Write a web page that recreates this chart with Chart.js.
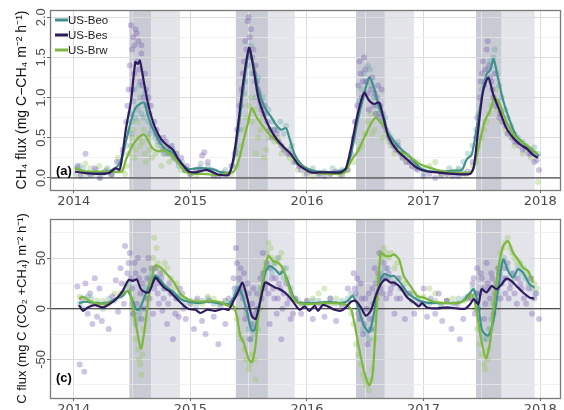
<!DOCTYPE html>
<html>
<head>
<meta charset="utf-8">
<script src="https://cdn.jsdelivr.net/npm/chart.js@4.4.1/dist/chart.umd.min.js"></script>
<style>
html,body{margin:0;padding:0;background:#fff;overflow:hidden;width:564px;height:410px;}
canvas{position:absolute;left:0;}
#c1{top:0;}
#c2{top:210px;}
</style>
</head>
<body>
<canvas id="c1" width="564" height="210"></canvas>
<canvas id="c2" width="564" height="215"></canvas>
<script>
// ---------- data ----------
const siteNames = ["US-Beo", "US-Bes", "US-Brw"];
const xTicks = [2014, 2015, 2016, 2017, 2018];
const ch4Ticks = [0.0, 0.5, 1.0, 1.5, 2.0];
const cTicks = [-50, 0, 50];

// growing-season shading (decimal year)
const darkBands = [[2014.477, 2014.663], [2015.39, 2015.665], [2016.42, 2016.667], [2017.45, 2017.668]];
const lightBands = [[2014.663, 2014.911], [2015.665, 2015.895], [2016.667, 2016.917], [2017.668, 2017.952]];

// CH4 flux smoothed lines
const ch4Beo = [[2014.01,0.12],[2014.1,0.08],[2014.2,0.07],[2014.3,0.08],[2014.39,0.17],[2014.448,0.46],[2014.491,0.71],[2014.528,0.87],[2014.567,0.92],[2014.604,0.94],[2014.633,0.79],[2014.675,0.62],[2014.732,0.46],[2014.789,0.35],[2014.831,0.33],[2014.874,0.27],[2014.93,0.17],[2014.987,0.11],[2015.044,0.12],[2015.129,0.12],[2015.214,0.10],[2015.243,0.08],[2015.328,0.06],[2015.37,0.21],[2015.413,0.62],[2015.455,1.12],[2015.504,1.59],[2015.54,1.42],[2015.583,1.10],[2015.64,0.87],[2015.696,0.75],[2015.74,0.65],[2015.78,0.60],[2015.82,0.62],[2015.853,0.48],[2015.895,0.29],[2015.95,0.17],[2016.01,0.11],[2016.09,0.08],[2016.26,0.08],[2016.334,0.12],[2016.377,0.29],[2016.434,0.71],[2016.49,1.04],[2016.534,1.25],[2016.576,1.12],[2016.619,0.87],[2016.66,0.75],[2016.69,0.58],[2016.746,0.46],[2016.80,0.37],[2016.89,0.25],[2016.97,0.125],[2017.06,0.08],[2017.257,0.09],[2017.328,0.10],[2017.37,0.23],[2017.413,0.29],[2017.455,0.62],[2017.498,1.0],[2017.54,1.29],[2017.574,1.35],[2017.60,1.48],[2017.64,1.23],[2017.683,0.96],[2017.74,0.71],[2017.796,0.52],[2017.853,0.44],[2017.91,0.37],[2017.966,0.31],[2017.99,0.27]];
const ch4Bes = [[2014.01,0.08],[2014.1,0.06],[2014.2,0.05],[2014.3,0.06],[2014.36,0.12],[2014.39,0.1],[2014.41,0.21],[2014.448,0.62],[2014.491,0.96],[2014.528,1.44],[2014.55,1.42],[2014.567,1.46],[2014.604,1.17],[2014.633,0.95],[2014.66,0.79],[2014.70,0.62],[2014.75,0.48],[2014.79,0.42],[2014.85,0.35],[2014.89,0.25],[2014.93,0.17],[2014.987,0.08],[2015.044,0.07],[2015.1,0.09],[2015.14,0.10],[2015.21,0.06],[2015.243,0.04],[2015.328,0.04],[2015.37,0.25],[2015.413,0.71],[2015.455,1.21],[2015.504,1.62],[2015.54,1.37],[2015.583,1.0],[2015.64,0.75],[2015.696,0.58],[2015.753,0.46],[2015.81,0.37],[2015.866,0.29],[2015.923,0.17],[2015.98,0.11],[2016.037,0.07],[2016.15,0.07],[2016.29,0.07],[2016.334,0.12],[2016.377,0.37],[2016.434,0.79],[2016.49,1.06],[2016.534,0.96],[2016.576,0.92],[2016.619,0.94],[2016.66,0.72],[2016.70,0.51],[2016.774,0.34],[2016.86,0.23],[2016.945,0.125],[2017.03,0.08],[2017.115,0.07],[2017.257,0.05],[2017.398,0.05],[2017.43,0.13],[2017.47,0.62],[2017.51,1.08],[2017.555,1.25],[2017.597,1.04],[2017.654,0.83],[2017.71,0.62],[2017.768,0.50],[2017.824,0.42],[2017.88,0.37],[2017.938,0.29],[2017.98,0.25]];
const ch4Brw = [[2014.01,0.12],[2014.1,0.08],[2014.2,0.08],[2014.3,0.08],[2014.41,0.08],[2014.448,0.23],[2014.491,0.37],[2014.53,0.46],[2014.57,0.52],[2014.604,0.54],[2014.633,0.48],[2014.675,0.37],[2014.732,0.33],[2014.77,0.35],[2014.817,0.31],[2014.874,0.23],[2014.93,0.12],[2014.987,0.06],[2015.1,0.05],[2015.243,0.04],[2015.37,0.08],[2015.413,0.21],[2015.455,0.46],[2015.498,0.71],[2015.526,0.87],[2015.57,0.75],[2015.61,0.67],[2015.668,0.56],[2015.725,0.48],[2015.78,0.40],[2015.84,0.33],[2015.895,0.23],[2015.95,0.15],[2016.01,0.08],[2016.094,0.06],[2016.29,0.05],[2016.334,0.08],[2016.377,0.21],[2016.434,0.33],[2016.49,0.50],[2016.547,0.67],[2016.59,0.75],[2016.632,0.69],[2016.675,0.62],[2016.70,0.51],[2016.774,0.34],[2016.86,0.29],[2016.97,0.17],[2017.06,0.125],[2017.17,0.08],[2017.31,0.06],[2017.413,0.08],[2017.47,0.37],[2017.525,0.71],[2017.568,0.83],[2017.61,1.0],[2017.654,0.92],[2017.696,0.75],[2017.753,0.58],[2017.81,0.48],[2017.87,0.42],[2017.92,0.37],[2017.98,0.29]];

// CH4 flux daily points
const ch4BeoPts = [[2014.02,0.05],[2014.05,0.15],[2014.08,0.12],[2014.11,0.02],[2014.15,0.03],[2014.19,0.1],[2014.23,0.0],[2014.25,0.06],[2014.29,0.12],[2014.33,0.04],[2014.35,0.1],[2014.39,0.2],[2014.42,0.3],[2014.45,0.4],[2014.46,0.6],[2014.48,0.8],[2014.49,0.55],[2014.5,0.7],[2014.51,0.95],[2014.52,1.1],[2014.53,0.75],[2014.55,0.85],[2014.56,1.15],[2014.57,1.0],[2014.58,0.8],[2014.6,0.75],[2014.61,1.05],[2014.62,0.9],[2014.64,0.7],[2014.65,0.55],[2014.67,0.6],[2014.7,0.5],[2014.72,0.45],[2014.75,0.4],[2014.77,0.3],[2014.8,0.3],[2014.83,0.38],[2014.85,0.35],[2014.88,0.22],[2014.9,0.15],[2014.93,0.2],[2014.96,0.1],[2015.0,0.05],[2015.05,0.1],[2015.09,0.18],[2015.15,0.15],[2015.2,0.08],[2015.25,0.05],[2015.3,0.1],[2015.35,0.15],[2015.39,0.35],[2015.42,0.6],[2015.44,0.9],[2015.46,1.05],[2015.47,1.2],[2015.49,1.4],[2015.5,1.5],[2015.52,1.65],[2015.53,1.3],[2015.55,1.2],[2015.56,1.0],[2015.58,1.25],[2015.6,0.9],[2015.62,1.0],[2015.65,0.8],[2015.67,0.85],[2015.7,0.7],[2015.72,0.6],[2015.75,0.6],[2015.77,0.7],[2015.8,0.55],[2015.82,0.65],[2015.85,0.35],[2015.87,0.4],[2015.9,0.2],[2015.94,0.15],[2016.0,0.1],[2016.05,0.12],[2016.1,0.06],[2016.15,0.08],[2016.22,0.12],[2016.3,0.1],[2016.36,0.2],[2016.4,0.45],[2016.42,0.7],[2016.45,0.95],[2016.47,1.1],[2016.49,1.3],[2016.51,1.2],[2016.52,1.4],[2016.54,1.35],[2016.55,1.15],[2016.57,1.0],[2016.6,0.9],[2016.62,0.8],[2016.65,0.7],[2016.67,0.75],[2016.7,0.55],[2016.72,0.5],[2016.75,0.4],[2016.78,0.45],[2016.82,0.3],[2016.86,0.28],[2016.9,0.2],[2016.95,0.12],[2017.0,0.06],[2017.07,0.1],[2017.15,0.07],[2017.22,0.12],[2017.3,0.12],[2017.34,0.2],[2017.38,0.3],[2017.42,0.4],[2017.45,0.6],[2017.47,0.8],[2017.5,1.1],[2017.52,1.2],[2017.55,1.35],[2017.57,1.45],[2017.6,1.5],[2017.61,1.6],[2017.63,1.3],[2017.65,1.15],[2017.67,1.0],[2017.7,0.85],[2017.72,0.75],[2017.75,0.65],[2017.78,0.55],[2017.81,0.5],[2017.85,0.45],[2017.88,0.4],[2017.92,0.35],[2017.95,0.38],[2017.98,0.3]];
const ch4BesPts = [[2014.03,0.15],[2014.06,0.02],[2014.1,0.3],[2014.14,0.05],[2014.18,0.12],[2014.22,0.0],[2014.27,0.08],[2014.32,0.04],[2014.37,0.2],[2014.42,0.35],[2014.45,0.7],[2014.46,0.9],[2014.47,1.1],[2014.48,1.4],[2014.49,1.9],[2014.5,1.6],[2014.5,1.1],[2014.51,1.75],[2014.52,1.3],[2014.52,1.65],[2014.53,1.85],[2014.54,1.8],[2014.545,1.45],[2014.555,1.7],[2014.56,1.35],[2014.57,1.2],[2014.58,1.55],[2014.58,1.65],[2014.59,1.15],[2014.6,1.0],[2014.61,1.3],[2014.62,1.1],[2014.63,0.9],[2014.64,1.0],[2014.65,0.8],[2014.66,0.9],[2014.67,0.65],[2014.69,0.7],[2014.7,0.55],[2014.71,0.6],[2014.73,0.5],[2014.74,0.45],[2014.76,0.35],[2014.77,0.5],[2014.79,0.45],[2014.8,0.38],[2014.82,0.3],[2014.84,0.4],[2014.86,0.25],[2014.88,0.3],[2014.9,0.2],[2014.92,0.25],[2014.95,0.1],[2014.97,0.15],[2015.0,0.05],[2015.05,0.08],[2015.08,0.12],[2015.1,0.28],[2015.12,0.32],[2015.15,0.2],[2015.18,0.1],[2015.2,0.03],[2015.24,0.02],[2015.28,0.06],[2015.32,0.05],[2015.36,0.15],[2015.38,0.3],[2015.4,0.6],[2015.42,0.9],[2015.44,1.1],[2015.45,1.3],[2015.46,1.45],[2015.47,1.7],[2015.48,1.6],[2015.49,1.95],[2015.5,2.0],[2015.51,1.75],[2015.52,1.85],[2015.53,1.5],[2015.54,1.6],[2015.55,1.3],[2015.56,1.4],[2015.57,1.2],[2015.58,1.1],[2015.59,1.05],[2015.6,0.95],[2015.61,0.85],[2015.63,0.8],[2015.64,0.9],[2015.66,0.7],[2015.68,0.6],[2015.7,0.5],[2015.72,0.6],[2015.74,0.55],[2015.76,0.45],[2015.78,0.4],[2015.8,0.35],[2015.83,0.3],[2015.85,0.3],[2015.88,0.28],[2015.9,0.2],[2015.93,0.15],[2015.95,0.1],[2016.0,0.05],[2016.03,0.08],[2016.1,0.04],[2016.15,0.02],[2016.2,0.05],[2016.25,0.08],[2016.3,0.03],[2016.35,0.1],[2016.38,0.3],[2016.4,0.5],[2016.41,0.7],[2016.43,0.9],[2016.44,1.15],[2016.45,1.45],[2016.46,1.3],[2016.47,1.0],[2016.48,1.2],[2016.49,1.5],[2016.5,1.35],[2016.51,1.2],[2016.52,1.05],[2016.53,0.85],[2016.55,1.1],[2016.56,1.25],[2016.57,0.9],[2016.58,1.05],[2016.59,0.8],[2016.6,1.0],[2016.61,1.15],[2016.62,0.75],[2016.63,0.9],[2016.64,1.1],[2016.65,0.8],[2016.66,0.65],[2016.68,0.6],[2016.7,0.5],[2016.72,0.45],[2016.74,0.4],[2016.76,0.35],[2016.78,0.4],[2016.8,0.3],[2016.82,0.25],[2016.85,0.2],[2016.88,0.2],[2016.9,0.15],[2016.93,0.12],[2016.95,0.1],[2017.0,0.02],[2017.05,0.05],[2017.1,0.0],[2017.15,0.03],[2017.2,0.05],[2017.25,0.02],[2017.3,0.02],[2017.34,0.06],[2017.38,0.08],[2017.42,0.2],[2017.45,0.5],[2017.46,0.75],[2017.48,1.0],[2017.49,1.2],[2017.5,1.3],[2017.51,1.45],[2017.52,1.15],[2017.53,1.35],[2017.54,1.6],[2017.55,1.7],[2017.56,1.4],[2017.57,1.25],[2017.58,1.2],[2017.59,1.1],[2017.6,1.0],[2017.61,1.3],[2017.62,0.9],[2017.63,0.95],[2017.65,0.75],[2017.66,0.8],[2017.68,0.7],[2017.7,0.65],[2017.72,0.55],[2017.74,0.6],[2017.76,0.5],[2017.78,0.45],[2017.8,0.45],[2017.82,0.4],[2017.85,0.35],[2017.87,0.38],[2017.9,0.3],[2017.92,0.3],[2017.95,0.2],[2017.97,0.22],[2017.99,0.1]];
const ch4BrwPts = [[2014.03,0.12],[2014.06,0.05],[2014.1,0.18],[2014.14,0.12],[2014.18,0.05],[2014.22,0.15],[2014.28,0.1],[2014.32,0.05],[2014.38,0.25],[2014.42,0.1],[2014.44,0.05],[2014.46,0.15],[2014.47,0.3],[2014.49,0.4],[2014.5,0.5],[2014.51,0.6],[2014.52,0.25],[2014.53,0.35],[2014.55,0.7],[2014.56,0.5],[2014.57,0.4],[2014.59,0.45],[2014.6,0.6],[2014.61,0.3],[2014.62,0.2],[2014.64,0.5],[2014.65,0.35],[2014.67,0.25],[2014.7,0.3],[2014.72,0.4],[2014.75,0.15],[2014.78,0.3],[2014.8,0.4],[2014.82,0.2],[2014.85,0.25],[2014.88,0.3],[2014.92,0.1],[2014.96,0.08],[2015.0,0.05],[2015.05,0.03],[2015.1,0.1],[2015.15,0.08],[2015.2,0.02],[2015.28,0.06],[2015.35,0.05],[2015.4,0.15],[2015.42,0.3],[2015.44,0.4],[2015.46,0.6],[2015.48,0.75],[2015.5,0.9],[2015.52,1.0],[2015.53,0.7],[2015.55,0.85],[2015.56,0.3],[2015.58,0.5],[2015.6,0.6],[2015.62,0.75],[2015.63,0.25],[2015.65,0.35],[2015.67,0.5],[2015.69,0.6],[2015.72,0.45],[2015.75,0.5],[2015.78,0.3],[2015.81,0.35],[2015.85,0.25],[2015.88,0.2],[2015.92,0.1],[2015.98,0.05],[2016.05,0.02],[2016.12,0.06],[2016.2,0.05],[2016.28,0.04],[2016.35,0.1],[2016.4,0.2],[2016.45,0.35],[2016.47,0.4],[2016.5,0.55],[2016.52,0.7],[2016.55,0.8],[2016.56,0.55],[2016.58,0.6],[2016.6,0.8],[2016.62,0.9],[2016.64,0.7],[2016.65,0.5],[2016.68,0.55],[2016.7,0.45],[2016.72,0.4],[2016.75,0.3],[2016.78,0.35],[2016.82,0.25],[2016.86,0.2],[2016.9,0.15],[2016.95,0.2],[2017.0,0.1],[2017.05,0.15],[2017.1,0.2],[2017.15,0.05],[2017.2,0.05],[2017.25,0.08],[2017.3,0.1],[2017.36,0.05],[2017.42,0.15],[2017.45,0.2],[2017.47,0.4],[2017.5,0.5],[2017.52,0.6],[2017.54,0.7],[2017.56,0.8],[2017.58,0.9],[2017.6,1.0],[2017.62,1.1],[2017.63,0.85],[2017.65,0.8],[2017.67,0.7],[2017.7,0.6],[2017.72,0.55],[2017.75,0.5],[2017.78,0.4],[2017.82,0.45],[2017.85,0.3],[2017.88,0.35],[2017.92,0.25],[2017.95,0.3],[2017.98,-0.05]];

// C flux smoothed lines
const cBeo = [[2014.045,5.6],[2014.10,6.9],[2014.19,5.6],[2014.28,5.6],[2014.363,10],[2014.42,12.7],[2014.46,17.6],[2014.50,9.5],[2014.533,-0.3],[2014.56,-1],[2014.604,11],[2014.647,22.5],[2014.70,33],[2014.745,27.5],[2014.80,21],[2014.86,16],[2014.917,9.5],[2014.987,6.9],[2015.07,5.6],[2015.157,6.9],[2015.24,5.6],[2015.328,4.6],[2015.37,11],[2015.413,21],[2015.447,12.7],[2015.483,-2],[2015.526,-21.6],[2015.555,-20],[2015.597,6.2],[2015.64,35.6],[2015.68,42.2],[2015.725,39],[2015.767,34],[2015.796,37.3],[2015.84,25.8],[2015.88,12.7],[2015.923,6.2],[2015.98,5.6],[2016.094,5.6],[2016.18,6.9],[2016.29,5.6],[2016.349,7.8],[2016.391,12.7],[2016.434,2.9],[2016.49,-16.7],[2016.534,-23],[2016.576,-3.6],[2016.619,25.8],[2016.66,34],[2016.717,32],[2016.746,32.4],[2016.80,25.8],[2016.86,16],[2016.917,11],[2016.97,7.8],[2017.06,5.6],[2017.2,5.6],[2017.285,5.6],[2017.34,7.8],[2017.40,16],[2017.43,19.3],[2017.47,2.9],[2017.498,-20],[2017.525,-24.8],[2017.555,-26.5],[2017.597,-13.4],[2017.64,19.3],[2017.683,48.7],[2017.725,37.3],[2017.768,30.7],[2017.81,39],[2017.853,35.6],[2017.91,24],[2017.95,21]];
const cBes = [[2014.045,3.6],[2014.08,-2],[2014.12,1.3],[2014.18,3.6],[2014.25,1.3],[2014.306,4.6],[2014.363,9.5],[2014.42,17.6],[2014.47,28.4],[2014.505,27.5],[2014.54,29],[2014.576,19.3],[2014.62,16],[2014.647,16.7],[2014.70,30.7],[2014.732,26.5],[2014.774,21],[2014.817,17.6],[2014.86,12.7],[2014.90,7.8],[2014.945,2.9],[2014.987,-0.3],[2015.044,-1],[2015.087,-4.2],[2015.143,-1],[2015.214,-2],[2015.285,0],[2015.328,-1],[2015.37,7.8],[2015.413,17.6],[2015.447,25.8],[2015.483,12.7],[2015.526,-6.9],[2015.56,-10],[2015.597,6.2],[2015.64,25.8],[2015.68,24],[2015.725,21],[2015.767,19.3],[2015.81,16],[2015.853,11],[2015.895,4.6],[2015.938,-1],[2015.98,2.3],[2016.02,-2],[2016.066,2.9],[2016.094,-2],[2016.136,3.6],[2016.18,2.3],[2016.236,-1],[2016.29,-2],[2016.334,1.3],[2016.377,6.9],[2016.42,7.8],[2016.462,1.3],[2016.505,-6.9],[2016.547,-2],[2016.59,12.7],[2016.632,24],[2016.675,29],[2016.717,25.8],[2016.746,25.8],[2016.80,21],[2016.86,11],[2016.917,6.2],[2016.96,2.3],[2016.987,5.6],[2017.03,1.3],[2017.115,0.3],[2017.2,1.3],[2017.285,0.3],[2017.356,0],[2017.40,4.6],[2017.43,9.5],[2017.47,4.6],[2017.498,19.3],[2017.54,16],[2017.583,22.5],[2017.626,19.3],[2017.668,24],[2017.71,29.7],[2017.753,27.5],[2017.796,22.5],[2017.853,16],[2017.91,11],[2017.95,10]];
const cBrw = [[2014.045,9.5],[2014.08,11.8],[2014.135,7.8],[2014.22,4.6],[2014.306,5.6],[2014.377,11],[2014.434,16],[2014.477,17.6],[2014.505,2.9],[2014.54,-20],[2014.576,-39.5],[2014.604,-23],[2014.633,2.9],[2014.66,25.8],[2014.70,42.8],[2014.745,40.5],[2014.80,34],[2014.86,25.8],[2014.917,14.4],[2014.987,8.8],[2015.07,6.9],[2015.157,7.8],[2015.24,6.9],[2015.328,2.9],[2015.36,4.6],[2015.398,-6.9],[2015.427,-26.5],[2015.455,-33],[2015.498,-49],[2015.526,-52.6],[2015.555,-39.5],[2015.583,-6.9],[2015.625,32],[2015.668,52],[2015.71,47],[2015.753,45.4],[2015.796,39],[2015.84,22.5],[2015.88,11],[2015.923,5.6],[2016.01,4.6],[2016.18,5.6],[2016.32,4.6],[2016.377,-0.3],[2016.405,-13.4],[2016.448,-39.5],[2016.49,-62],[2016.534,-75.5],[2016.562,-65.7],[2016.59,-16.7],[2016.632,55],[2016.675,52],[2016.717,52],[2016.746,53.6],[2016.79,48.7],[2016.83,32.4],[2016.89,22],[2016.945,12.7],[2017.0,11],[2017.09,6.9],[2017.2,5.6],[2017.31,6.2],[2017.37,9.5],[2017.413,14.4],[2017.44,6.2],[2017.47,-13.4],[2017.498,-33],[2017.535,-49],[2017.57,-33],[2017.597,-3.6],[2017.64,39],[2017.683,61.8],[2017.725,66.7],[2017.768,55],[2017.81,48.7],[2017.853,40.5],[2017.895,37.3],[2017.94,25.8]];

// C flux daily points
const cBeoPts = [[2014.05,5],[2014.08,0],[2014.12,12],[2014.15,10],[2014.2,5],[2014.25,0],[2014.3,10],[2014.35,8],[2014.4,12],[2014.45,20],[2014.47,25],[2014.5,5],[2014.51,-5],[2014.53,-15],[2014.55,-10],[2014.56,-5],[2014.58,0],[2014.6,15],[2014.62,20],[2014.65,30],[2014.67,35],[2014.7,40],[2014.72,30],[2014.75,25],[2014.77,20],[2014.8,20],[2014.83,15],[2014.88,10],[2014.9,12],[2014.95,5],[2015.0,8],[2015.05,3],[2015.1,8],[2015.15,10],[2015.2,5],[2015.25,3],[2015.3,8],[2015.35,5],[2015.38,15],[2015.4,20],[2015.42,25],[2015.45,15],[2015.48,-5],[2015.5,-20],[2015.52,-30],[2015.54,-25],[2015.55,-15],[2015.57,0],[2015.6,20],[2015.62,35],[2015.65,45],[2015.67,40],[2015.7,35],[2015.72,45],[2015.75,50],[2015.77,35],[2015.8,30],[2015.82,40],[2015.86,15],[2015.88,10],[2015.92,8],[2015.95,5],[2016.0,5],[2016.05,8],[2016.1,8],[2016.15,5],[2016.2,10],[2016.25,5],[2016.3,8],[2016.35,10],[2016.38,15],[2016.41,12],[2016.44,0],[2016.46,-10],[2016.48,-20],[2016.51,-25],[2016.53,-30],[2016.55,-20],[2016.57,-10],[2016.59,10],[2016.62,30],[2016.64,35],[2016.67,40],[2016.69,30],[2016.72,30],[2016.75,25],[2016.8,20],[2016.85,15],[2016.9,8],[2016.95,10],[2017.0,5],[2017.05,5],[2017.1,8],[2017.15,3],[2017.2,8],[2017.25,5],[2017.3,10],[2017.35,10],[2017.38,12],[2017.42,20],[2017.45,15],[2017.48,-10],[2017.5,-25],[2017.52,-30],[2017.54,-30],[2017.56,-20],[2017.58,-10],[2017.6,5],[2017.62,10],[2017.65,35],[2017.67,45],[2017.69,50],[2017.72,40],[2017.75,35],[2017.78,30],[2017.81,40],[2017.84,35],[2017.87,30],[2017.9,25],[2017.93,20],[2017.97,15]];
const cBesPts = [[2014.03,22],[2014.05,-55],[2014.07,10],[2014.09,-62],[2014.1,25],[2014.12,-5],[2014.14,15],[2014.16,-15],[2014.18,30],[2014.2,-8],[2014.22,20],[2014.24,-12],[2014.27,5],[2014.3,-20],[2014.33,12],[2014.36,28],[2014.38,-3],[2014.4,40],[2014.41,25],[2014.42,15],[2014.43,5],[2014.44,62],[2014.46,35],[2014.47,45],[2014.48,55],[2014.49,30],[2014.5,20],[2014.51,-5],[2014.52,45],[2014.53,35],[2014.54,5],[2014.55,50],[2014.56,30],[2014.57,15],[2014.58,-10],[2014.59,25],[2014.6,38],[2014.61,0],[2014.62,10],[2014.63,30],[2014.64,50],[2014.65,10],[2014.66,25],[2014.67,40],[2014.68,-5],[2014.69,20],[2014.7,40],[2014.71,25],[2014.72,15],[2014.73,5],[2014.74,35],[2014.75,30],[2014.76,-2],[2014.77,10],[2014.78,20],[2014.8,-15],[2014.81,5],[2014.82,25],[2014.84,15],[2014.85,-30],[2014.87,-5],[2014.88,10],[2014.9,-8],[2014.91,20],[2014.93,15],[2014.94,0],[2014.96,-10],[2015.0,5],[2015.03,-20],[2015.06,10],[2015.1,-12],[2015.13,-25],[2015.16,8],[2015.2,-8],[2015.24,-35],[2015.27,5],[2015.3,-15],[2015.33,10],[2015.37,30],[2015.38,20],[2015.39,60],[2015.4,45],[2015.41,15],[2015.42,30],[2015.43,40],[2015.44,20],[2015.45,10],[2015.46,35],[2015.47,-10],[2015.48,0],[2015.49,25],[2015.5,15],[2015.51,-30],[2015.52,-15],[2015.53,5],[2015.54,20],[2015.55,-20],[2015.56,-5],[2015.57,15],[2015.58,0],[2015.6,30],[2015.61,10],[2015.62,55],[2015.63,35],[2015.64,20],[2015.65,25],[2015.66,45],[2015.67,15],[2015.68,-15],[2015.69,40],[2015.7,30],[2015.71,20],[2015.72,10],[2015.73,30],[2015.74,-5],[2015.75,10],[2015.76,25],[2015.77,20],[2015.78,-30],[2015.79,0],[2015.8,15],[2015.82,25],[2015.83,5],[2015.85,10],[2015.86,-10],[2015.88,-5],[2015.9,10],[2015.95,-5],[2016.0,8],[2016.05,-10],[2016.1,5],[2016.15,-8],[2016.2,10],[2016.25,-12],[2016.3,3],[2016.35,20],[2016.4,35],[2016.41,20],[2016.42,15],[2016.43,30],[2016.44,-5],[2016.45,-10],[2016.46,25],[2016.47,10],[2016.48,-25],[2016.49,-15],[2016.5,10],[2016.51,0],[2016.52,-35],[2016.53,15],[2016.54,-10],[2016.55,-20],[2016.56,20],[2016.57,5],[2016.58,40],[2016.59,25],[2016.6,15],[2016.61,35],[2016.62,55],[2016.63,20],[2016.64,30],[2016.65,15],[2016.66,45],[2016.67,30],[2016.68,10],[2016.69,40],[2016.7,35],[2016.71,15],[2016.72,20],[2016.74,25],[2016.75,-5],[2016.77,10],[2016.78,30],[2016.8,10],[2016.82,20],[2016.84,-10],[2016.88,15],[2016.92,-5],[2016.96,5],[2017.0,20],[2017.03,-8],[2017.06,10],[2017.1,-5],[2017.13,15],[2017.16,-12],[2017.2,8],[2017.24,-20],[2017.28,5],[2017.31,-30],[2017.34,-10],[2017.38,10],[2017.41,10],[2017.42,25],[2017.43,30],[2017.44,-5],[2017.45,15],[2017.46,40],[2017.47,0],[2017.48,15],[2017.49,35],[2017.5,30],[2017.51,20],[2017.52,-10],[2017.53,5],[2017.54,45],[2017.55,25],[2017.56,20],[2017.57,10],[2017.58,35],[2017.59,30],[2017.6,-5],[2017.61,15],[2017.62,25],[2017.63,20],[2017.64,40],[2017.65,35],[2017.66,10],[2017.67,25],[2017.68,30],[2017.69,40],[2017.7,15],[2017.71,30],[2017.72,45],[2017.73,10],[2017.74,20],[2017.75,25],[2017.77,35],[2017.78,15],[2017.8,5],[2017.81,30],[2017.83,25],[2017.84,20],[2017.86,10],[2017.88,5],[2017.9,20],[2017.92,30],[2017.93,-5],[2017.95,10],[2017.96,15],[2017.99,-10]];
const cBrwPts = [[2014.05,12],[2014.1,10],[2014.15,5],[2014.2,8],[2014.25,8],[2014.3,5],[2014.35,15],[2014.4,15],[2014.45,25],[2014.48,20],[2014.5,10],[2014.52,-10],[2014.53,-30],[2014.55,-40],[2014.56,-50],[2014.57,-55],[2014.58,-65],[2014.59,-45],[2014.6,-20],[2014.62,-10],[2014.63,10],[2014.65,25],[2014.66,40],[2014.68,50],[2014.69,70],[2014.71,60],[2014.72,45],[2014.74,40],[2014.76,35],[2014.78,45],[2014.8,40],[2014.83,30],[2014.85,20],[2014.88,25],[2014.92,10],[2014.95,10],[2015.0,5],[2015.05,8],[2015.1,5],[2015.15,12],[2015.2,10],[2015.25,5],[2015.3,8],[2015.34,5],[2015.38,0],[2015.4,-10],[2015.42,-25],[2015.44,-30],[2015.46,-40],[2015.48,-50],[2015.5,-60],[2015.51,-55],[2015.53,-45],[2015.55,-50],[2015.56,-70],[2015.58,-20],[2015.6,0],[2015.62,20],[2015.64,40],[2015.66,55],[2015.67,65],[2015.69,60],[2015.7,50],[2015.72,45],[2015.74,45],[2015.76,50],[2015.78,55],[2015.8,40],[2015.83,30],[2015.86,20],[2015.9,10],[2015.95,5],[2016.0,8],[2016.05,10],[2016.1,15],[2016.15,20],[2016.2,5],[2016.25,10],[2016.3,5],[2016.35,5],[2016.38,-5],[2016.4,-15],[2016.42,-35],[2016.44,-45],[2016.46,-55],[2016.48,-65],[2016.5,-70],[2016.51,-75],[2016.53,-80],[2016.55,-70],[2016.56,-60],[2016.58,-30],[2016.6,10],[2016.61,30],[2016.63,55],[2016.65,50],[2016.66,60],[2016.68,55],[2016.7,50],[2016.72,55],[2016.75,40],[2016.77,45],[2016.8,30],[2016.84,25],[2016.88,15],[2016.92,15],[2016.95,10],[2017.0,12],[2017.05,20],[2017.1,15],[2017.15,5],[2017.2,8],[2017.25,10],[2017.3,5],[2017.35,8],[2017.38,12],[2017.42,10],[2017.44,0],[2017.46,-20],[2017.48,-35],[2017.5,-45],[2017.52,-55],[2017.53,-60],[2017.55,-50],[2017.56,-40],[2017.58,-20],[2017.6,5],[2017.62,20],[2017.64,40],[2017.66,55],[2017.68,60],[2017.7,65],[2017.72,70],[2017.74,60],[2017.76,55],[2017.78,50],[2017.8,45],[2017.83,45],[2017.86,40],[2017.89,35],[2017.92,30],[2017.95,25],[2017.97,20]];

// ---------- styling ----------
const X_MIN = 2013.796, X_MAX = 2018.17;
const lineColors = {beo: '#3f918b', bes: '#2e1a5f', brw: '#7cb83d'};
const ptColors = {beo: 'rgba(90,160,158,0.33)', bes: 'rgba(120,92,178,0.36)', brw: 'rgba(150,196,92,0.36)'};
const DARK_BAND = '#c9cbd4', LIGHT_BAND = '#e4e5eb';

function near(v, arr) { return arr.some(t => Math.abs(v - t) < 1e-6); }

const panelPlugin = {
  id: 'panel',
  beforeDraw(chart) {
    const {ctx, chartArea: a, scales: {x}} = chart;
    ctx.save();
    const fill = (bands, col) => {
      ctx.fillStyle = col;
      bands.forEach(b => {
        const x0 = x.getPixelForValue(b[0]), x1 = x.getPixelForValue(b[1]);
        ctx.fillRect(x0, a.top, x1 - x0, a.bottom - a.top);
      });
    };
    fill(lightBands, LIGHT_BAND);
    fill(darkBands, DARK_BAND);
    ctx.restore();
  },
  afterDraw(chart, args, opts) {
    const {ctx, chartArea: a} = chart;
    ctx.save();
    ctx.strokeStyle = '#7a7a7a';
    ctx.lineWidth = 1.3;
    ctx.strokeRect(a.left + 0.5, a.top + 0.5, a.right - a.left, a.bottom - a.top);
    ctx.fillStyle = '#000';
    ctx.font = 'bold 13px "Liberation Sans", Arial, sans-serif';
    ctx.textBaseline = 'middle';
    ctx.textAlign = 'left';
    ctx.fillText(opts.tag, a.left + 6, a.bottom - opts.tagOffset);
    if (opts.legend) {
      const cols = [lineColors.beo, lineColors.bes, lineColors.brw];
      ctx.font = '11.5px "Liberation Sans", Arial, sans-serif';
      siteNames.forEach((n, i) => {
        const y = a.top + 10 + i * 15;
        ctx.strokeStyle = cols[i];
        ctx.lineWidth = 3;
        ctx.beginPath(); ctx.moveTo(a.left + 5, y); ctx.lineTo(a.left + 18, y); ctx.stroke();
        ctx.fillStyle = '#1a1a1a';
        ctx.fillText(n, a.left + 18, y + 0.5);
      });
    }
    ctx.restore();
  }
};

function buildChart(id, cfg) {
  const sets = [
    {type: 'scatter', data: cfg.pts[2], backgroundColor: ptColors.brw, borderWidth: 0, pointRadius: 3, order: 9},
    {type: 'scatter', data: cfg.pts[0], backgroundColor: ptColors.beo, borderWidth: 0, pointRadius: 3, order: 8},
    {type: 'scatter', data: cfg.pts[1], backgroundColor: ptColors.bes, borderWidth: 0, pointRadius: 3, order: 7},
    {type: 'line', data: [[X_MIN, 0], [X_MAX, 0]], borderColor: '#222', borderWidth: 1, pointRadius: 0, order: 5},
    {type: 'line', label: siteNames[0], data: cfg.lines[0], borderColor: lineColors.beo, borderWidth: 2.2, pointRadius: 0, tension: 0.25, order: 3},
    {type: 'line', label: siteNames[2], data: cfg.lines[2], borderColor: lineColors.brw, borderWidth: 2.2, pointRadius: 0, tension: 0.25, order: 2},
    {type: 'line', label: siteNames[1], data: cfg.lines[1], borderColor: lineColors.bes, borderWidth: 2.2, pointRadius: 0, tension: 0.25, order: 1}
  ];
  return new Chart(document.getElementById(id), {
    data: {datasets: sets},
    options: {
      responsive: false, animation: false, devicePixelRatio: 1,
      layout: {padding: {top: cfg.padTop, right: 0, left: 0, bottom: 0}},
      plugins: {legend: {display: false}, tooltip: {enabled: false}, panel: {tag: cfg.tag, tagOffset: cfg.tagOffset, legend: cfg.legend}},
      scales: {
        x: {
          type: 'linear', min: X_MIN, max: X_MAX,
          afterFit: s => { s.height = cfg.xH; },
          ticks: {
            stepSize: 0.5, includeBounds: false, autoSkip: false, maxRotation: 0, minRotation: 0,
            padding: 1, color: '#4a4a4a',
            font: {family: '"DejaVu Sans", sans-serif', size: 13},
            callback: v => near(v, xTicks) ? String(Math.round(v)) : ''
          },
          grid: {
            drawTicks: true, tickLength: 3,
            color: c => near(c.tick.value, xTicks) ? '#dcdcdc' : '#ececec',
            lineWidth: c => near(c.tick.value, xTicks) ? 1 : 0.7,
            tickColor: c => near(c.tick.value, xTicks) ? '#666' : 'rgba(0,0,0,0)'
          },
          border: {display: false}
        },
        y: {
          type: 'linear', min: cfg.yMin, max: cfg.yMax,
          afterFit: s => { s.width = 50; },
          ticks: {
            stepSize: cfg.yStep, includeBounds: false, autoSkip: false,
            minRotation: 90, maxRotation: 90, crossAlign: 'center', padding: cfg.yPad,
            color: '#4a4a4a',
            font: {family: '"Liberation Sans Narrow", "Liberation Sans", Arial, sans-serif', size: 13},
            callback: v => near(v, cfg.yTicks) ? cfg.fmt(v) : ''
          },
          grid: {
            drawTicks: true, tickLength: 3,
            color: c => near(c.tick.value, cfg.yTicks) ? '#dcdcdc' : '#ececec',
            lineWidth: c => near(c.tick.value, cfg.yTicks) ? 1 : 0.7,
            tickColor: c => near(c.tick.value, cfg.yTicks) ? '#666' : 'rgba(0,0,0,0)'
          },
          border: {display: false},
          title: {
            display: true, text: cfg.title, color: '#111',
            font: {family: '"Liberation Sans", Arial, sans-serif', size: cfg.titleSize},
            padding: {top: 20 - cfg.titleSize * 0.6 + 2, bottom: 0}
          }
        }
      }
    },
    plugins: [panelPlugin]
  });
}

buildChart('c1', {
  pts: [ch4BeoPts, ch4BesPts, ch4BrwPts], lines: [ch4Beo, ch4Bes, ch4Brw],
  padTop: 10, xH: 20, yMin: -0.15, yMax: 2.09, yStep: 0.25, yTicks: ch4Ticks, yPad: -3,
  fmt: v => v.toFixed(1), tag: '(a)', tagOffset: 19, legend: true, titleSize: 14,
  title: 'CH₄ flux (mg C−CH₄ m⁻² h⁻¹)'
});
buildChart('c2', {
  pts: [cBeoPts, cBesPts, cBrwPts], lines: [cBeo, cBes, cBrw],
  padTop: 9, xH: 27, yMin: -88, yMax: 88.5, yStep: 25, yTicks: cTicks, yPad: -4,
  fmt: v => String(Math.round(v)), tag: '(c)', tagOffset: 20, legend: false, titleSize: 13,
  title: 'C flux (mg C (CO₂ +CH₄) m⁻² h⁻¹)'
});
</script>
</body>
</html>
